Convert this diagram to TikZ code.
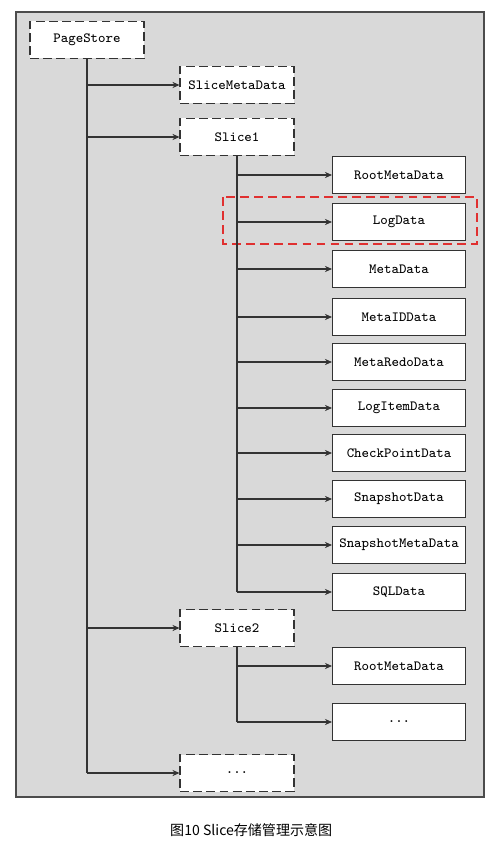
\documentclass[tikz,border=0pt]{standalone}
\usepackage{fontspec}
\newfontfamily\cjkfont{Noto Sans CJK SC}
\usetikzlibrary{arrows.meta}
\definecolor{panelgray}{RGB}{217,217,217}
\definecolor{linegray}{RGB}{51,51,51}
\definecolor{markred}{RGB}{224,48,48}

\begin{document}
\begin{tikzpicture}[x=0.02cm, y=-0.02cm,
    boxtext/.style={font=\ttfamily\fontsize{8}{9}\selectfont},
    slicebox/.style={boxtext, draw=linegray, fill=white, line width=0.6pt, dash pattern=on 5pt off 2.5pt, minimum width=2.28cm, minimum height=0.74cm},
    databox/.style={boxtext, draw=linegray, fill=white, line width=0.6pt, minimum width=2.66cm, minimum height=0.74cm},
    link/.style={draw=linegray, line width=0.6pt},
    linkarrow/.style={link, -{Stealth[length=4pt, width=3.5pt]}}]

    \fill[white] (0, 0) rectangle (501, 854);
    \useasboundingbox (0, 0) rectangle (501, 854);

    \draw[fill=panelgray, draw=black!70, line width=0.6pt] (16, 12) rectangle (484, 797);

    % highlight round LogData
    \draw[markred, line width=0.6pt, dash pattern=on 5pt off 3pt] (223, 197) rectangle (477, 244);

    \node[slicebox] (store) at (87, 40) {PageStore};
    \node[slicebox] (slicemeta) at (237, 85) {SliceMetaData};
    \node[slicebox] (slice1) at (237, 137) {Slice1};
    \node[slicebox] (slice2) at (237, 628) {Slice2};
    \node[slicebox] (slicemore) at (237, 773) {...};

    \node[databox] (rootmeta) at (399, 175) {RootMetaData};
    \node[databox] (logdata) at (399, 222) {LogData};
    \node[databox] (metadata) at (399, 269) {MetaData};
    \node[databox] (metaid) at (399, 317) {MetaIDData};
    \node[databox] (metaredo) at (399, 362) {MetaRedoData};
    \node[databox] (logitem) at (399, 408) {LogItemData};
    \node[databox] (checkpoint) at (399, 453) {CheckPointData};
    \node[databox] (snapshot) at (399, 499) {SnapshotData};
    \node[databox] (snapmeta) at (399, 545) {SnapshotMetaData};
    \node[databox] (sqldata) at (399, 592) {SQLData};

    \node[databox] (rootmetatwo) at (399, 666) {RootMetaData};
    \node[databox] (datamore) at (399, 722) {...};

    % PageStore
    \draw[link] (store.south) -- (store.south |- slicemore.west);
    \draw[linkarrow] (store.south |- slicemeta.west) -- (slicemeta.west);
    \draw[linkarrow] (store.south |- slice1.west) -- (slice1.west);
    \draw[linkarrow] (store.south |- slice2.west) -- (slice2.west);
    \draw[linkarrow] (store.south |- slicemore.west) -- (slicemore.west);

    % Slice1
    \draw[link] (slice1.south) -- (slice1.south |- sqldata.west);
    \draw[linkarrow] (slice1.south |- rootmeta.west) -- (rootmeta.west);
    \draw[linkarrow] (slice1.south |- logdata.west) -- (logdata.west);
    \draw[linkarrow] (slice1.south |- metadata.west) -- (metadata.west);
    \draw[linkarrow] (slice1.south |- metaid.west) -- (metaid.west);
    \draw[linkarrow] (slice1.south |- metaredo.west) -- (metaredo.west);
    \draw[linkarrow] (slice1.south |- logitem.west) -- (logitem.west);
    \draw[linkarrow] (slice1.south |- checkpoint.west) -- (checkpoint.west);
    \draw[linkarrow] (slice1.south |- snapshot.west) -- (snapshot.west);
    \draw[linkarrow] (slice1.south |- snapmeta.west) -- (snapmeta.west);
    \draw[linkarrow] (slice1.south |- sqldata.west) -- (sqldata.west);

    % Slice2
    \draw[link] (slice2.south) -- (slice2.south |- datamore.west);
    \draw[linkarrow] (slice2.south |- rootmetatwo.west) -- (rootmetatwo.west);
    \draw[linkarrow] (slice2.south |- datamore.west) -- (datamore.west);

    \node[font=\cjkfont\fontsize{8}{10}\selectfont, anchor=west] (caption) at (164, 830) {图10 Slice存储管理示意图};

\end{tikzpicture}
\end{document}
